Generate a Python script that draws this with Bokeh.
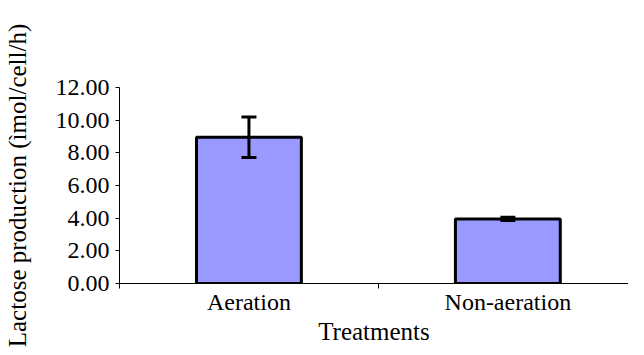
from bokeh.plotting import figure
from bokeh.models import ColumnDataSource, Whisker, FixedTicker, Range1d, NumeralTickFormatter
from bokeh.embed import file_html
from bokeh.resources import INLINE

categories = ["Aeration", "Non-aeration"]
values = [8.95, 3.95]
errors = [1.24, 0.10]
y_ticks = [0, 2, 4, 6, 8, 10, 12]

xpos = [i + 0.5 for i in range(len(categories))]
src = ColumnDataSource(dict(
    x=xpos, top=values,
    upper=[v + e for v, e in zip(values, errors)],
    lower=[v - e for v, e in zip(values, errors)],
))

FONT = "Liberation Serif"

p = figure(width=628, height=347, output_backend="svg", toolbar_location=None,
           x_range=Range1d(0, 1.966), y_range=Range1d(0, 12),
           min_border_left=113, min_border_top=87, min_border_bottom=62, min_border_right=0)
p.outline_line_color = None
p.xgrid.visible = False
p.ygrid.visible = False
p.background_fill_color = "white"

p.vbar(x="x", top="top", width=0.405, bottom=0, source=src,
       fill_color="#9999FF", line_color="black", line_width=3)

w = Whisker(base="x", upper="upper", lower="lower", source=src,
            line_color="black", line_width=3, level="annotation")
w.upper_head.size = 15
w.lower_head.size = 15
w.upper_head.line_width = 3
w.lower_head.line_width = 3
w.upper_head.line_color = "black"
w.lower_head.line_color = "black"
p.add_layout(w)

# x axis
p.xaxis.ticker = FixedTicker(ticks=xpos, minor_ticks=[0, 1, 2])
p.xaxis.major_label_overrides = {x: c for x, c in zip(xpos, categories)}
p.xaxis.major_tick_out = 0
p.xaxis.major_tick_in = 0
p.xaxis.minor_tick_out = 5
p.xaxis.minor_tick_in = 0
p.xaxis.axis_label = "Treatments"
p.xaxis.major_label_standoff = 0
p.xaxis.axis_label_standoff = 0

# y axis
p.yaxis.ticker = FixedTicker(ticks=y_ticks, minor_ticks=[])
p.yaxis.formatter = NumeralTickFormatter(format="0.00")
p.yaxis.major_tick_out = 4
p.yaxis.major_tick_in = 0
p.yaxis.minor_tick_out = 0
p.yaxis.axis_label = "Lactose production (ìmol/cell/h)"
p.yaxis.major_label_standoff = 6
p.yaxis.axis_label_standoff = 22

for ax in (p.xaxis[0], p.yaxis[0]):
    ax.axis_line_color = "black"
    ax.axis_line_width = 1
    ax.major_tick_line_color = "black"
    ax.minor_tick_line_color = "black"
    ax.major_label_text_font = FONT
    ax.major_label_text_font_size = "24px"
    ax.major_label_text_font_style = "normal"
    ax.major_label_text_color = "black"
    ax.axis_label_text_font = FONT
    ax.axis_label_text_font_size = "25px"
    ax.axis_label_text_font_style = "normal"
    ax.axis_label_text_color = "black"

open("out.html", "w").write(file_html(p, INLINE))
